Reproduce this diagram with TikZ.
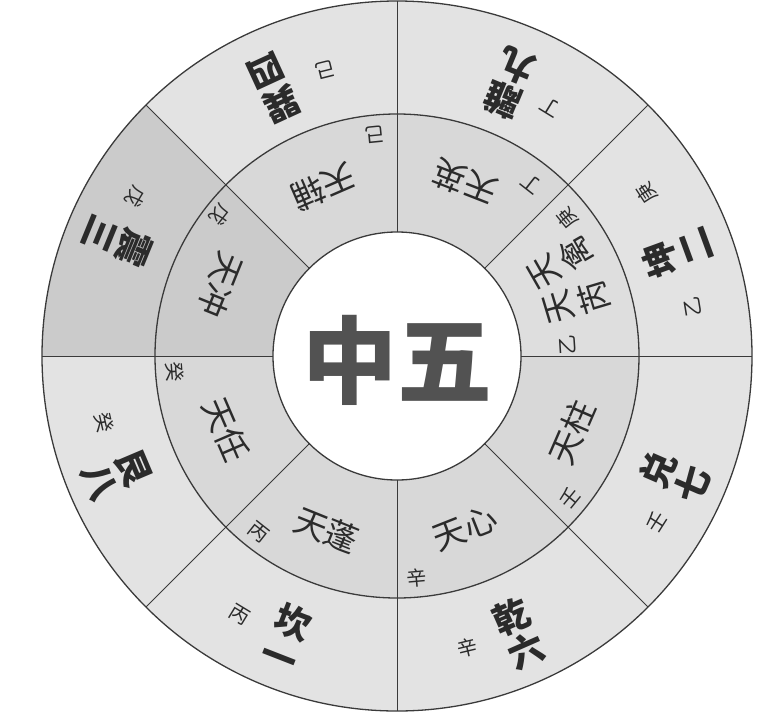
\documentclass[tikz,border=0pt]{standalone}
\usepackage{fontspec}
\newfontfamily\cjk{Noto Sans CJK SC}
\definecolor{ringout}{HTML}{E3E3E3}
\definecolor{ringin}{HTML}{D8D8D8}
\definecolor{ringdark}{HTML}{CBCBCB}
\definecolor{ringlight}{HTML}{DEDEDE}
\definecolor{inkline}{HTML}{3A3A3A}
\definecolor{ink}{HTML}{2B2B2B}

\begin{document}
\begin{tikzpicture}[x=1pt,y=1pt,
    every node/.style={inner sep=0pt, text=ink},
    palace/.style={font=\cjk\bfseries\fontsize{36}{37}\selectfont, align=center},
    star/.style={font=\cjk\fontsize{33}{37}\selectfont, align=center},
    stem/.style={font=\cjk\fontsize{20}{20}\selectfont}]
    \useasboundingbox (-397,-360) rectangle (366,356);

    % rings
    \fill[ringout] (0,0) circle (355);
    \fill[ringin] (0,0) circle (242);
    \fill[ringdark] (135:242) -- (135:355) arc[start angle=135, end angle=180, radius=355]
        -- (180:242) arc[start angle=180, end angle=135, radius=242] -- cycle;
    \fill[ringdark] (135:124) -- (135:242) arc[start angle=135, end angle=180, radius=242]
        -- (180:124) arc[start angle=180, end angle=135, radius=124] -- cycle;
    \fill[ringlight] (0:124) -- (0:242) arc[start angle=0, end angle=45, radius=242]
        -- (45:124) arc[start angle=45, end angle=0, radius=124] -- cycle;
    \fill[white] (0,0) circle (124);

    \foreach \a in {0,45,...,315}
      \draw[inkline, line width=0.8pt] (\a:124) -- (\a:355);
    \draw[inkline, line width=1.3pt] (0,0) circle (355) (0,0) circle (242) (0,0) circle (124);

    \node (zhong) at (1,-4) [font=\cjk\bfseries\fontsize{95}{95}\selectfont, text=black!68] {中五};

    % outer ring
    \node (li)   [palace, rotate=157.5] at (67.5:295)  {離\\九};
    \node (xun)  [palace, rotate=204.7] at (114.7:295) {巽\\四};
    \node (zhen) [palace, rotate=247.7] at (157.7:302) {震\\三};
    \node (gen)  [palace, rotate=293]   at (203:305)   {艮\\八};
    \node (kan)  [palace, rotate=338.7] at (248.7:303) {坎\\一};
    \node (qian) [palace, rotate=23.8]  at (293.8:303) {乾\\六};
    \node (dui)  [palace, rotate=66.5]  at (336.5:303) {兑\\七};
    \node (kun)  [palace, rotate=110.1] at (20.1:298)  {坤\\二};

    \node (dingO) [stem, rotate=148.4] at (58.4:292)  {丁};
    \node (jiO)   [stem, rotate=194]   at (104:295)   {己};
    \node (wuO)   [stem, rotate=238.7] at (148.7:306) {戊};
    \node (guiO)  [stem, rotate=282.9] at (192.9:300) {癸};
    \node (bingO) [stem, rotate=328.8] at (238.8:303) {丙};
    \node (xinO)  [stem, rotate=13.5]  at (283.5:300) {辛};
    \node (renO)  [stem, rotate=57.4]  at (327.4:308) {壬};
    \node (gengO) [stem, rotate=123.1] at (33.1:298)  {庚};
    \node (yiO)   [stem, rotate=99.4]  at (9.4:300)   {乙};

    % inner ring
    \node (tying)  [star, rotate=158.7] at (68.7:187)  {天英};
    \node (tfu)    [star, rotate=203.5] at (113.5:184) {天辅};
    \node (tchong) [star, rotate=248]   at (158:190)   {天冲};
    \node (tren)   [star, rotate=293.4] at (203.4:186) {天任};
    \node (tpeng)  [star, rotate=338]   at (248:188)   {天蓬};
    \node (txin)   [star, rotate=21.6]  at (291.6:185) {天心};
    \node (tzhu)   [star, rotate=66.5]  at (336.5:191) {天柱};
    \node (tqin)   [star, rotate=119.8] at (29.8:189)  {天\\禽};
    \node (trui)   [star, rotate=106.7] at (16.7:188)  {天\\芮};

    \node (dingI) [stem, rotate=142]   at (52:219)    {丁};
    \node (jiI)   [stem, rotate=185.7] at (95.7:222)  {己};
    \node (wuI)   [stem, rotate=231.5] at (141.5:226) {戊};
    \node (guiI)  [stem, rotate=274.1] at (184.1:223) {癸};
    \node (bingI) [stem, rotate=321.7] at (231.7:224) {丙};
    \node (xinI)  [stem, rotate=5.1]   at (275.1:223) {辛};
    \node (renI)  [stem, rotate=50.6]  at (320.6:224) {壬};
    \node (gengI) [stem, rotate=128.9] at (38.9:219)  {庚};
    \node (yiI)   [stem, rotate=93.7]  at (3.7:171)   {乙};
\end{tikzpicture}
\end{document}
